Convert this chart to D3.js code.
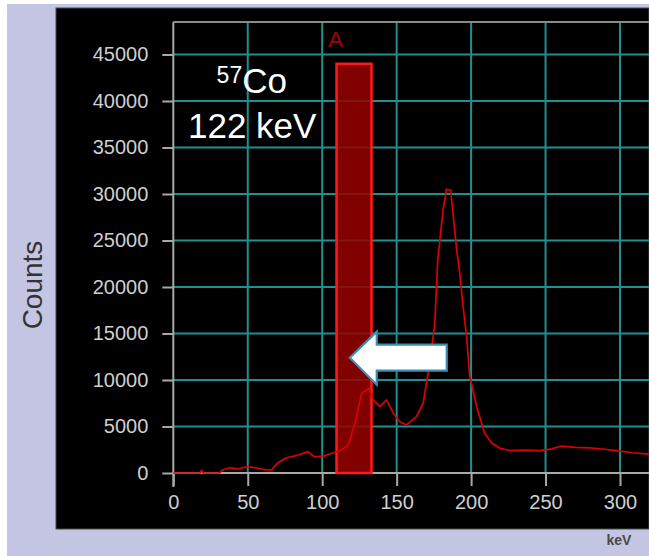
<!DOCTYPE html>
<html>
<head>
<meta charset="utf-8">
<script src="https://cdn.jsdelivr.net/npm/d3@7"></script>
<style>
  html, body { margin: 0; padding: 0; background: #ffffff; }
  svg { display: block; font-family: "Liberation Sans", Arial, sans-serif; }
</style>
</head>
<body>
<div id="chart"></div>
<script>
// spectrum (keV, counts)
const energy = [0, 18, 19, 20, 31, 33, 38, 43, 50, 56, 63, 66, 70, 75.7, 83.8, 90.5, 94.5, 101, 107, 112, 117.5,
  122, 126.5, 131.4, 134.3, 138.7, 143.2, 147.7, 152.1, 156.6, 163.3, 167.8, 172.2, 175.6, 177.6, 181.2, 183.4,
  186.3, 190.3, 192.4, 194.4, 197, 199, 203.8, 207, 209, 213.8, 219, 226, 235, 246, 254, 261, 270, 280, 288, 298, 308, 319.5];
const counts = [0, 0, 300, 0, 0, 320, 570, 430, 680, 540, 320, 320, 1070, 1610, 1930, 2300, 1750, 1820, 2150, 2400, 3000,
  5350, 8580, 9120, 7860, 7140, 7860, 6430, 5520, 5170, 6060, 7500, 11800, 16100, 22900, 28300, 30500,
  30400, 23980, 21500, 18200, 14640, 10500, 7100, 5380, 4300, 3230, 2690, 2400, 2450, 2400, 2600, 2900, 2750, 2700, 2580, 2400, 2180, 2040];

const xTicks = [0, 50, 100, 150, 200, 250, 300];
const yTicks = [0, 5000, 10000, 15000, 20000, 25000, 30000, 35000, 40000, 45000];

// region of interest "A"
const roiName = "A";
const roiRange = [109.6, 133.1];
const roiTop = 44000;

// annotation
const isotopeMass = "57";
const isotopeName = "Co";
const lineLabel = "122 keV";
const labelAt = [53, 40900, 36000];   // keV, baseline counts of the two lines
const arrowTip = [118.5, 12400];

const W = 649, H = 556;
const plot = { left: 173.3, right: 649, top: 22, bottom: 473 };

const svg = d3.select("#chart").append("svg")
  .attr("width", W)
  .attr("height", H);

const x = d3.scaleLinear().domain([0, 300]).range([plot.left, 620]);
const y = d3.scaleLinear().domain([0, 45000]).range([plot.bottom, 54.5]);

// frame and panel
svg.append("rect").attr("x", 7).attr("y", 4).attr("width", W - 7).attr("height", H - 4).attr("fill", "#c4c4e3");
svg.append("rect").attr("x", 56).attr("y", 8).attr("width", W - 56).attr("height", 521)
  .attr("fill", "#000").attr("stroke", "#4a4a4a").attr("stroke-width", 1);

// grid
const grid = svg.append("g").attr("stroke", "#1f8f8f").attr("stroke-width", 2);
grid.selectAll("line.h").data(yTicks.filter(d => d > 0)).join("line")
  .attr("x1", plot.left).attr("x2", plot.right)
  .attr("y1", d => y(d)).attr("y2", d => y(d));
grid.selectAll("line.v").data(xTicks.filter(d => d > 0)).join("line")
  .attr("x1", d => x(d)).attr("x2", d => x(d))
  .attr("y1", plot.top).attr("y2", plot.bottom);

// axes
const yAxis = svg.append("g")
  .attr("transform", `translate(${plot.left},0)`)
  .call(d3.axisLeft(y).tickValues(yTicks).tickSize(11).tickPadding(14).tickFormat(d3.format("d")));
const xAxis = svg.append("g")
  .attr("transform", `translate(0,${plot.bottom})`)
  .call(d3.axisBottom(x).tickValues(xTicks).tickSize(13).tickPadding(9).tickFormat(d3.format("d")));
[yAxis, xAxis].forEach(g => {
  g.select(".domain").remove();
  g.selectAll(".tick line").attr("stroke", "#a8a8a8").attr("stroke-width", 2);
  g.selectAll(".tick text").attr("fill", "#cfcfcf").style("font-size", "20px")
    .style("font-family", "'Liberation Sans', Arial, sans-serif");
});

svg.append("line").attr("x1", plot.left).attr("x2", plot.left).attr("y1", plot.top).attr("y2", plot.bottom + 14)
  .attr("stroke", "#a8a8a8").attr("stroke-width", 2);
svg.append("line").attr("x1", plot.left).attr("x2", plot.right).attr("y1", plot.bottom).attr("y2", plot.bottom)
  .attr("stroke", "#a8a8a8").attr("stroke-width", 2);
svg.append("line").attr("x1", plot.left).attr("x2", plot.right).attr("y1", plot.top).attr("y2", plot.top)
  .attr("stroke", "#8a8a8a").attr("stroke-width", 2);

// ROI box
svg.append("rect")
  .attr("x", x(roiRange[0])).attr("y", y(roiTop))
  .attr("width", x(roiRange[1]) - x(roiRange[0]))
  .attr("height", y(0) - y(roiTop))
  .attr("fill", "#980000").attr("fill-opacity", 0.85)
  .attr("stroke", "#ff1a1a").attr("stroke-width", 2.5);
svg.append("text")
  .attr("x", x(roiRange[0]) - 1).attr("y", 47)
  .attr("text-anchor", "middle")
  .attr("fill", "#a80000").style("font-size", "22px")
  .text(roiName);

// spectrum
const pts = energy.map((e, i) => [e, counts[i]]);
svg.append("path")
  .datum(pts)
  .attr("fill", "none")
  .attr("stroke", "#dc0000")
  .attr("stroke-width", 1.7)
  .attr("stroke-linejoin", "round")
  .attr("d", d3.line().x(d => x(d[0])).y(d => y(d[1])));

// labels
svg.append("text").attr("x", x(labelAt[0]) - 10).attr("y", y(labelAt[1]) - 10)
  .attr("text-anchor", "end").attr("fill", "#fff").style("font-size", "23px").text(isotopeMass);
svg.append("text").attr("x", x(labelAt[0]) - 10).attr("y", y(labelAt[1]))
  .attr("text-anchor", "start").attr("fill", "#fff").style("font-size", "35px").text(isotopeName);
svg.append("text").attr("x", x(labelAt[0])).attr("y", y(labelAt[2]))
  .attr("text-anchor", "middle").attr("fill", "#fff").style("font-size", "35px").text(lineLabel);

// arrow pointing at the ROI
const tx = x(arrowTip[0]), ty = y(arrowTip[1]);
const arrow = [[tx, ty], [tx + 27, ty - 26], [tx + 27, ty - 13], [tx + 97, ty - 13],
  [tx + 97, ty + 13], [tx + 27, ty + 13], [tx + 27, ty + 27]];
svg.append("path")
  .attr("d", d3.line()(arrow) + "Z")
  .attr("fill", "#ffffff").attr("stroke", "#3a8db5").attr("stroke-width", 2.2);

// axis titles
svg.append("text")
  .attr("transform", "translate(42,285) rotate(-90)")
  .attr("text-anchor", "middle").attr("fill", "#333").style("font-size", "28px")
  .text("Counts");
svg.append("text")
  .attr("x", 619).attr("y", 545)
  .attr("text-anchor", "middle").attr("fill", "#4a4a4a")
  .style("font-size", "14px").style("font-weight", "bold")
  .text("keV");
</script>
</body>
</html>
